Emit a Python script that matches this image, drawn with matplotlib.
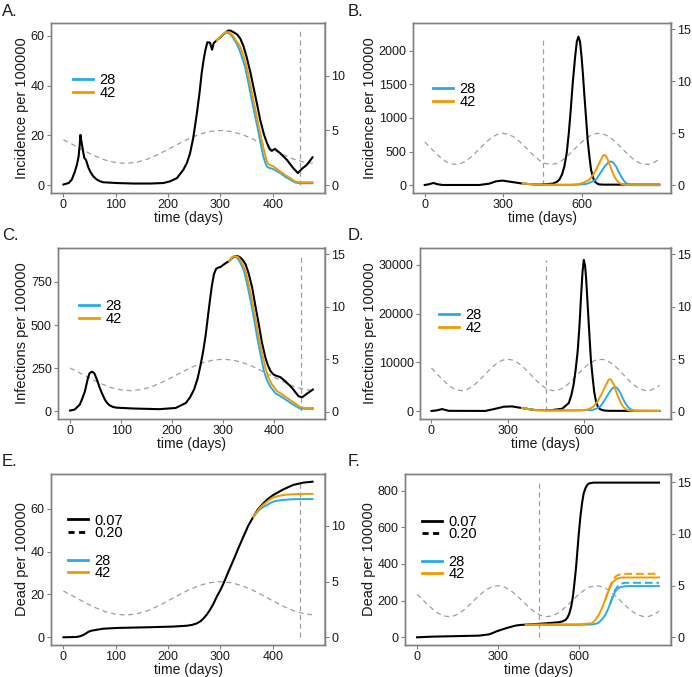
import matplotlib
matplotlib.use('Agg')
import matplotlib.pyplot as plt
from matplotlib.lines import Line2D

plt.rcParams['font.family'] = ['Liberation Sans', 'DejaVu Sans']

BLUE = '#2AA9E8'
ORANGE = '#EE9A00'
GREY = '#9e9e9e'
SPINE = '#808080'

VLINE_T = 452
T_END_LEFT = 476
T_END_RIGHT = 897

# seasonal forcing (right axis)
SEASON_T = [0, 20, 40, 60, 80, 100, 120, 140, 160, 180, 200, 220, 240, 260, 280, 300,
            320, 340, 360, 380, 400, 420, 440, 460, 480, 500, 520, 540, 560, 580, 600,
            620, 640, 660, 680, 700, 720, 740, 760, 780, 800, 820, 840, 860, 880, 897]
SEASON_V = [4.16, 3.66, 3.15, 2.68, 2.30, 2.07, 2.00, 2.11, 2.38, 2.79, 3.28, 3.79, 4.27,
            4.66, 4.91, 5.00, 4.91, 4.66, 4.27, 3.79, 3.28, 2.79, 2.38, 2.11, 2.00, 2.07,
            2.30, 2.68, 3.15, 3.66, 4.16, 4.57, 4.86, 4.99, 4.95, 4.74, 4.38, 3.91, 3.40,
            2.90, 2.47, 2.17, 2.01, 2.03, 2.23, 2.52]

# A. incidence, short run
A_BLACK_T = [0, 10, 16, 22, 26, 29, 31, 32.5, 34, 36, 38, 40, 43, 48, 52, 57, 63, 70, 76,
             102, 134, 166, 191, 204, 217, 229, 236, 242, 248, 255, 260, 264, 268, 271, 275,
             280, 284, 287, 293, 299, 307, 315, 320, 325, 332, 338, 344, 350, 357, 363, 370,
             376, 383, 389, 394, 398, 404, 414, 427, 439, 448, 455, 465, 476]
A_BLACK_V = [0.3, 0.9, 2.3, 5.6, 8.5, 11.6, 16.0, 20.2, 18.0, 15.6, 13.0, 10.9, 10.2, 6.9,
             5.2, 3.6, 2.4, 1.6, 1.2, 0.9, 0.7, 0.7, 0.9, 1.6, 2.9, 6.2, 9.0, 12.9, 19.0,
             28.9, 37.0, 44.8, 50.5, 54.0, 57.4, 57.2, 54.4, 57.0, 58.2, 59.2, 60.8, 62.1,
             62.0, 61.4, 60.5, 58.8, 55.8, 51.5, 45.5, 39.5, 32.5, 26.2, 20.5, 16.9, 14.5,
             13.8, 14.6, 12.9, 10.2, 6.9, 4.9, 6.5, 8.2, 11.2]
A_28_T = [293, 300, 306, 311, 316, 322, 330, 336, 341, 347, 354, 360, 367, 373, 378, 382,
          386, 389, 394, 401, 414, 425, 433, 443, 452, 476]
A_28_V = [58.2, 59.6, 60.7, 61.2, 61.0, 59.8, 57.2, 54.5, 51.5, 47.5, 40.5, 34.0, 27.0,
          20.9, 15.5, 11.5, 8.8, 7.5, 6.9, 6.5, 4.9, 3.2, 2.3, 1.1, 0.8, 0.8]
A_42_T = [293, 300, 306, 312, 317, 324, 330, 338, 344, 350, 357, 363, 370, 376, 381, 385,
          388, 391, 396, 401, 414, 425, 433, 443, 452, 476]
A_42_V = [58.2, 59.6, 60.8, 61.5, 61.3, 60.0, 58.0, 55.5, 52.0, 47.5, 40.5, 34.0, 27.0,
          20.9, 15.8, 12.5, 10.0, 8.6, 8.0, 7.6, 5.6, 3.9, 2.9, 1.5, 1.2, 1.2]

# B. incidence, long run
B_BLACK_T = [0, 15, 33, 50, 69, 209, 247, 273, 298, 324, 375, 438, 489, 505, 515, 525, 534,
             543, 551, 558, 566, 575, 582, 588, 594, 600, 605, 610, 617, 623, 630, 636, 645,
             653, 665, 681, 897]
B_BLACK_V = [5, 15, 35, 15, 5, 5, 25, 60, 70, 55, 25, 10, 25, 50, 85, 160, 280, 480, 775,
             1100, 1516, 1900, 2140, 2207, 2130, 1900, 1650, 1368, 1000, 676, 420, 232, 100,
             44, 15, 10, 10]
B_28_T = [375, 438, 500, 580, 617, 635, 655, 668, 680, 690, 700, 707, 713, 720, 732, 742,
          751, 760, 770, 780, 789, 897]
B_28_V = [25, 10, 8, 8, 20, 45, 84, 160, 232, 290, 330, 350, 355, 340, 281, 200, 133, 75,
          35, 12, 3, 2]
B_42_T = [375, 438, 500, 560, 591, 610, 630, 643, 655, 665, 674, 681, 687, 694, 700, 710,
          719, 728, 738, 747, 757, 770, 783, 897]
B_42_V = [25, 10, 8, 8, 20, 45, 84, 150, 232, 310, 380, 435, 454, 430, 380, 280, 183, 110,
          59, 30, 15, 5, 2, 2]

# C. infections, short run
C_BLACK_T = [0, 9, 19, 24, 29, 32, 35, 38, 42, 45, 48, 53, 58, 63, 68, 72, 77, 83, 90, 123,
             175, 207, 227, 235, 243, 250, 256, 261, 266, 270, 274, 278, 282, 286, 290, 295,
             303, 312, 318, 325, 330, 334, 339, 344, 350, 357, 363, 370, 376, 383, 388, 393,
             398, 403, 412, 422, 435, 448, 455, 464, 476]
C_BLACK_V = [4, 10, 39, 75, 116, 155, 194, 220, 229, 226, 217, 180, 136, 100, 68, 50, 35,
             26, 21, 16, 12, 19, 48, 80, 126, 190, 271, 350, 446, 545, 640, 730, 795, 825,
             833, 837, 855, 872, 890, 901, 898, 891, 875, 853, 800, 717, 615, 504, 400, 310,
             265, 233, 215, 207, 198, 174, 136, 87, 81, 101, 126]
C_28_T = [312, 316, 319, 323, 328, 334, 341, 347, 354, 361, 367, 374, 380, 386, 393, 403,
          416, 435, 451, 461, 476]
C_28_V = [872, 888, 897, 897, 888, 860, 814, 740, 640, 530, 426, 320, 233, 180, 141, 103,
          81, 43, 15, 14, 14]
C_42_T = [312, 317, 321, 325, 330, 337, 344, 350, 357, 364, 370, 377, 383, 389, 396, 406,
          416, 435, 451, 461, 476]
C_42_V = [872, 890, 899, 899, 893, 862, 814, 740, 640, 530, 426, 330, 252, 195, 155, 116,
          97, 58, 25, 19, 19]

# D. infections, long run
D_BLACK_T = [0, 20, 42, 68, 212, 252, 284, 317, 356, 409, 474, 514, 540, 550, 559, 567, 575,
             582, 588, 594, 599, 604, 608, 614, 621, 627, 634, 640, 647, 655, 664, 680, 697,
             897]
D_BLACK_V = [100, 200, 478, 120, 100, 547, 957, 1025, 684, 273, 273, 547, 1709, 3300, 5468,
             8500, 12303, 17500, 23240, 28500, 30964, 29800, 27341, 22000, 15721, 10500,
             6835, 4000, 2050, 900, 410, 180, 120, 100]
D_28_T = [356, 409, 474, 560, 631, 648, 664, 677, 690, 700, 710, 717, 723, 730, 743, 752,
          762, 772, 782, 792, 802, 897]
D_28_V = [684, 273, 200, 200, 273, 550, 1025, 2000, 3076, 3950, 4648, 4900, 4990, 4800,
          3759, 2700, 1709, 950, 478, 250, 137, 100]
D_42_T = [356, 409, 474, 540, 605, 620, 638, 655, 671, 681, 690, 696, 701, 707, 717, 726,
          736, 746, 756, 766, 776, 800, 897]
D_42_V = [684, 273, 200, 200, 273, 500, 1025, 2200, 3759, 4900, 5810, 6400, 6630, 6400,
          5468, 4100, 2734, 1600, 820, 400, 205, 100, 100]

# E. dead, short run
E_BLACK_T = [0, 25, 32, 38, 43, 48, 54, 61, 76, 102, 166, 210, 236, 246, 255, 262, 268, 274,
             280, 287, 293, 300, 306, 315, 325, 335, 344, 353, 363, 372, 382, 391, 401, 420,
             439, 459, 476]
E_BLACK_V = [0, 0.15, 0.5, 1.1, 1.8, 2.6, 3.1, 3.4, 4.0, 4.35, 4.7, 5.0, 5.4, 5.8, 6.5, 7.5,
             8.9, 10.6, 12.8, 15.8, 19.0, 22.1, 25.2, 30.5, 36.1, 42.0, 47.0, 52.0, 56.3,
             59.8, 62.5, 64.6, 66.4, 69.0, 71.1, 72.2, 72.6]
E_28_T = [363, 370, 376, 383, 389, 395, 401, 410, 420, 435, 452, 476]
E_28_V = [56.3, 58.3, 59.8, 61.0, 61.7, 62.6, 63.3, 63.8, 64.1, 64.4, 64.5, 64.5]
E_42_T = [363, 370, 376, 383, 389, 395, 401, 410, 420, 435, 452, 476]
E_42_V = [56.3, 58.6, 60.5, 62.1, 63.3, 64.4, 65.3, 65.9, 66.4, 66.7, 66.9, 66.9]

# F. dead, long run (solid = 0.07, dashed = 0.20)
F_BLACK_T = [0, 58, 230, 267, 280, 292, 310, 329, 348, 366, 385, 403, 477, 526, 540, 551,
             558, 565, 572, 578, 584, 590, 595, 600, 606, 612, 618, 625, 631, 637, 645, 655,
             897]
F_BLACK_V = [0, 3.6, 9, 16, 23, 31, 40, 49, 57, 64, 67.5, 69, 76, 82, 87, 95, 108, 131, 170,
             222, 300, 386, 478, 568, 660, 732, 785, 814, 830, 838, 841, 843, 843]
F_28_T = [403, 477, 600, 649, 661, 674, 686, 698, 708, 717, 726, 735, 745, 754, 766, 779,
          897]
F_28_V = [69, 68, 68, 70, 73, 80, 98, 122, 152, 186, 220, 250, 266, 273, 277, 279, 279]
F_42_T = [403, 477, 600, 649, 661, 674, 686, 698, 708, 717, 726, 735, 747, 760, 897]
F_42_V = [69, 70, 71, 76, 95, 122, 160, 204, 245, 277, 300, 313, 322, 326, 326]
F_28D_T = [717, 726, 735, 745, 754, 763, 772, 897]
F_28D_V = [186, 225, 259, 280, 291, 295, 297, 297]
F_42D_T = [698, 705, 711, 720, 729, 738, 748, 760, 772, 897]
F_42D_V = [204, 235, 262, 293, 318, 333, 341, 345, 346, 346]


fig = plt.figure(figsize=(6.92, 6.77), dpi=100)
W, H = 692.0, 677.0


def make_axes(left, top, right, bottom):
    return fig.add_axes([left / W, 1 - bottom / H, (right - left) / W, (bottom - top) / H])


def style(ax):
    for s in ax.spines.values():
        s.set_color(SPINE)
        s.set_linewidth(1.0)
    ax.tick_params(colors=SPINE, labelcolor='#1a1a1a', labelsize=9, length=3, width=0.8,
                   pad=1.5)


def draw_panel(rect, label, label_xy, ylabel, black, c28, c42, t_end, ylim, yticks,
               y2lim, y2ticks, xticks, leg_xy, dead=False, dashed=None):
    ax = make_axes(*rect)
    ax2 = ax.twinx()
    st = [t for t in SEASON_T if t <= t_end + 5]
    ax2.plot(st, SEASON_V[:len(st)], color=GREY, lw=0.9, ls=(0, (4, 3)))
    ax2.set_ylim(*y2lim)
    ax2.set_yticks(y2ticks)
    style(ax2)
    ax2.spines['right'].set_color('#b5b5b5')
    ax2.spines['right'].set_linewidth(1.6)
    ax.set_zorder(ax2.get_zorder() + 1)
    ax.patch.set_visible(False)

    ax.vlines(VLINE_T, 0, max(black[1]), color=GREY, lw=0.9, ls=(0, (4, 3)))
    ax.plot(*black, color='black', lw=1.5)
    if dashed is not None:
        ax.plot(*dashed[0], color=BLUE, lw=1.4, ls=(0, (4, 2)))
        ax.plot(*dashed[1], color=ORANGE, lw=1.4, ls=(0, (4, 2)))
    ax.plot(*c28, color=BLUE, lw=1.4)
    ax.plot(*c42, color=ORANGE, lw=1.4)

    ax.set_xlim(-0.05 * t_end, 1.05 * t_end)
    ax.set_ylim(*ylim)
    ax.set_xticks(xticks)
    ax.set_yticks(yticks)
    style(ax)
    ax.set_xlabel('time (days)', fontsize=10, labelpad=0, color='#1a1a1a')
    ax.set_ylabel(ylabel, fontsize=10.5, labelpad=1, color='#1a1a1a')

    leg_kw = dict(frameon=False, loc='center left', fontsize=10.5, handlelength=1.35,
                  handletextpad=0.45, labelspacing=-0.08, borderpad=0, borderaxespad=0)
    col_handles = [Line2D([], [], color=BLUE, lw=2), Line2D([], [], color=ORANGE, lw=2)]
    if dead:
        lty_handles = [Line2D([], [], color='black', lw=2),
                       Line2D([], [], color='black', lw=2, ls=(0, (2.2, 1.6)))]
        l1 = ax.legend(lty_handles, ['0.07', '0.20'], bbox_to_anchor=(leg_xy[0], leg_xy[1] + 0.234),
                       **leg_kw)
        ax.add_artist(l1)
    ax.legend(col_handles, ['28', '42'], bbox_to_anchor=leg_xy, **leg_kw)
    fig.text(label_xy[0] / W, 1 - label_xy[1] / H, label, fontsize=12, va='center',
             ha='left', color='#1a1a1a')
    return ax


draw_panel((51, 23, 325, 193), 'A.', (2, 12), 'Incidence per 100000',
           (A_BLACK_T, A_BLACK_V), (A_28_T, A_28_V), (A_42_T, A_42_V), T_END_LEFT,
           (-3.1, 65.1), [0, 20, 40, 60], (-0.7, 14.8), [0, 5, 10], [0, 100, 200, 300, 400],
           (0.08, 0.627))
draw_panel((413, 23, 671, 193), 'B.', (348, 12), 'Incidence per 100000',
           (B_BLACK_T, B_BLACK_V), (B_28_T, B_28_V), (B_42_T, B_42_V), T_END_RIGHT,
           (-114, 2410), [0, 500, 1000, 1500, 2000], (-0.74, 15.6), [0, 5, 10, 15], [0, 300, 600],
           (0.078, 0.572))
draw_panel((58, 248, 325, 419), 'C.', (2, 236), 'Infections per 100000',
           (C_BLACK_T, C_BLACK_V), (C_28_T, C_28_V), (C_42_T, C_42_V), T_END_LEFT,
           (-45, 947), [0, 250, 500, 750], (-0.7, 15.6), [0, 5, 10, 15], [0, 100, 200, 300, 400],
           (0.079, 0.622))
draw_panel((420, 248, 671, 419), 'D.', (348, 236), 'Infections per 100000',
           (D_BLACK_T, D_BLACK_V), (D_28_T, D_28_V), (D_42_T, D_42_V), T_END_RIGHT,
           (-1550, 33400), [0, 10000, 20000, 30000], (-0.7, 15.6), [0, 5, 10, 15], [0, 300, 600],
           (0.076, 0.57))
draw_panel((51, 474, 325, 645), 'E.', (2, 461), 'Dead per 100000',
           (E_BLACK_T, E_BLACK_V), (E_28_T, E_28_V), (E_42_T, E_42_V), T_END_LEFT,
           (-3.6, 76.2), [0, 20, 40, 60], (-0.69, 14.67), [0, 5, 10], [0, 100, 200, 300, 400],
           (0.062, 0.456), dead=True)
draw_panel((405, 474, 671, 645), 'F.', (348, 461), 'Dead per 100000',
           (F_BLACK_T, F_BLACK_V), (F_28_T, F_28_V), (F_42_T, F_42_V), T_END_RIGHT,
           (-42, 890), [0, 200, 400, 600, 800], (-0.74, 15.8), [0, 5, 10, 15], [0, 300, 600],
           (0.064, 0.45), dead=True, dashed=((F_28D_T, F_28D_V), (F_42D_T, F_42D_V)))

fig.savefig('out.png', dpi=100)
